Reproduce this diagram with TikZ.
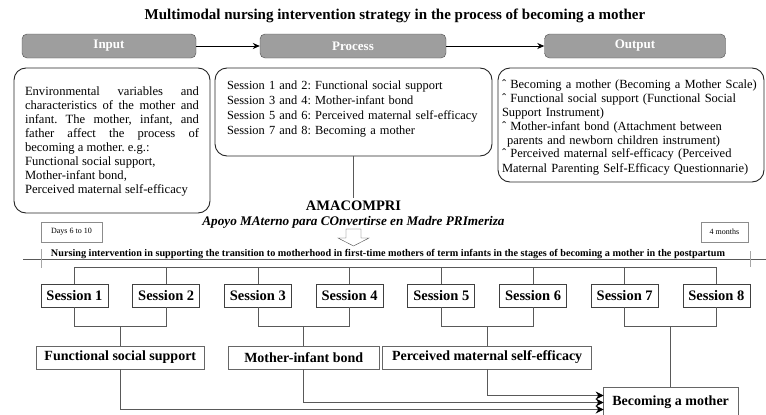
\documentclass[tikz,border=0pt]{standalone}
\usepackage{fontspec}
\setmainfont{Liberation Serif}
\usetikzlibrary{arrows.meta}
\tikzstyle{conn} = [draw=black!65, line width=0.8pt]
\tikzstyle{head} = [rectangle, rounded corners=5pt, draw=black!70, fill=black!38, text=white, font=\bfseries\fontsize{13}{15}\selectfont, minimum height=24pt]
\tikzstyle{txtbox} = [rectangle, rounded corners=12pt, draw=black!85, line width=0.9pt, inner sep=0pt]
\tikzstyle{sess} = [rectangle, draw=black!75, line width=0.8pt, minimum width=67pt, minimum height=23pt, inner sep=0pt, font=\bfseries\fontsize{14.5}{16}\selectfont]
\tikzstyle{topic} = [rectangle, draw=black!60, line width=0.8pt, minimum height=23pt, inner sep=0pt, font=\bfseries\fontsize{14}{16}\selectfont]
\tikzstyle{period} = [rectangle, draw=black!45, minimum height=20pt, inner sep=0pt, font=\fontsize{8}{9}\selectfont]

\begin{document}
\frenchspacing
\begin{tikzpicture}[x=1pt, y=-1pt, node distance=91.7pt]
  \useasboundingbox (0,0) rectangle (766,415);
  \node (title) at (395,16) [font=\bfseries\fontsize{15}{17}\selectfont] {Multimodal nursing intervention strategy in the process of becoming a mother};
  % input / process / output
  \node (inp) [head, minimum width=174pt] at (109,46) {Input};
  \node (proc) [head, minimum width=186pt] at (353,46) {Process};
  \node (outp) [head, minimum width=181pt] at (635,46) {Output};
  \draw [line width=0.8pt,->,>={Stealth[length=7pt,width=6pt]}] (inp) -- (proc);
  \draw [line width=0.8pt,->,>={Stealth[length=7pt,width=6pt]}] (proc) -- (outp);
  \node (inptxt) [txtbox, minimum width=196pt, minimum height=145pt] at (112,140.5) {};
  \node [text width=174pt, align=justify, font=\fontsize{12.6}{14.1}\selectfont] at (112,141.5) {Environmental variables and\linebreak characteristics of the mother and\linebreak infant. The mother, infant, and\linebreak father affect the process of\linebreak becoming a mother. e.g.:\\ Functional social support,\\ Mother-infant bond,\\ Perceived maternal self-efficacy};
  \node (proctxt) [txtbox, minimum width=277pt, minimum height=88pt] at (353.5,112) {};
  \node [text width=260pt, align=left, font=\fontsize{12.4}{14.7}\selectfont] at (357,109) {Session 1 and 2: Functional social support\\ Session 3 and 4: Mother-infant bond\\ Session 5 and 6: Perceived maternal self-efficacy\\ Session 7 and 8: Becoming a mother};
  \node (outptxt) [txtbox, minimum width=266pt, minimum height=114pt] at (631,125) {};
  \node [text width=266pt, align=left, font=\fontsize{12.5}{14}\selectfont] at (635,127) {ˆ Becoming a mother (Becoming a Mother Scale)\\ ˆ Functional social support (Functional Social\\ Support Instrument)\\ ˆ Mother-infant bond (Attachment between\\ \hspace*{5pt}parents and newborn children instrument)\\ ˆ Perceived maternal self-efficacy (Perceived\\ Maternal Parenting Self-Efficacy Questionnarie)};
  % program
  \node (ama) at (353.5,206) [font=\bfseries\fontsize{14.5}{17}\selectfont] {AMACOMPRI};
  \draw [conn] (proctxt.south) -- (proctxt.south |- ama.north);
  \draw [black!70, fill=white] (346,229) -- (361,229) -- (361,238) -- (369,238) -- (353.5,246) -- (338,238) -- (346,238) -- cycle;
  \node (apoyo) at (353.5,222) [font=\bfseries\itshape\fontsize{13.2}{15}\selectfont] {Apoyo MAterno para COnvertirse en Madre PRImeriza};
  \node (days) [period, minimum width=61pt] at (71.5,232) {Days 6 to 10};
  \node (months) [period, minimum width=47pt] at (724.5,232) {4 months};
  \node (goal) at (388,254) [font=\bfseries\fontsize{10.2}{12}\selectfont] {Nursing intervention in supporting the transition to motherhood in first-time mothers of term infants in the stages of becoming a mother in the postpartum};
  \coordinate (tl0) at (23,259);
  \coordinate (tl1) at (766,259);
  \draw [conn] (tl0) -- (tl1);
  \draw [black!35] (41,249) -- (41,268);
  \draw [black!35] (750,251) -- (750,267);
  % sessions
  \node (s1) [sess] at (74.5,295.5) {Session 1};
  \node (s2) [sess, right of=s1] {Session 2};
  \node (s3) [sess, right of=s2] {Session 3};
  \node (s4) [sess, right of=s3] {Session 4};
  \node (s5) [sess, right of=s4] {Session 5};
  \node (s6) [sess, right of=s5] {Session 6};
  \node (s7) [sess, right of=s6] {Session 7};
  \node (s8) [sess, right of=s7] {Session 8};
  \draw [conn] (s1.north) -- ++(0,-16) -| (s8.north);
  \foreach \s in {s2,s3,s4,s5,s6,s7}
    \draw [conn] (\s.north) -- ++(0,-16);
  \draw [conn] (s1.south) -- ++(0,19) -| (s2.south);
  \draw [conn] (s3.south) -- ++(0,19) -| (s4.south);
  \draw [conn] (s5.south) -- ++(0,19) -| (s6.south);
  \draw [conn] (s7.south) -- ++(0,19) -| (s8.south);
  % dimensions
  \node (t1) [topic, minimum width=168pt] at (120.3,357.5) {Functional social support};
  \node (t2) [topic, minimum width=151pt] at (303.7,357.5) {Mother-infant bond};
  \node (t3) [topic, minimum width=209pt] at (487.1,357.5) {Perceived maternal self-efficacy};
  \node (bm) [topic, minimum width=135pt, minimum height=31pt] at (670.6,402.5) {Becoming a mother};
  \draw [conn] (t1.north) -- ++(0,-20);
  \draw [conn] (t2.north) -- ++(0,-20);
  \draw [conn] (t3.north) -- ++(0,-20);
  \draw [conn] (bm.north) -- ++(0,-61);
  \draw [conn,->,>={Stealth[length=8pt,width=8pt,black]},shorten >=-1pt] (t3.south) |- ([yshift=7pt]bm.west);
  \draw [conn,->,>={Stealth[length=8pt,width=8pt,black]},shorten >=-1pt] (t2.south) |- (bm.west);
  \draw [conn,->,>={Stealth[length=8pt,width=8pt,black]},shorten >=-1pt] (t1.south) |- ([yshift=-7pt]bm.west);
\end{tikzpicture}
\end{document}
